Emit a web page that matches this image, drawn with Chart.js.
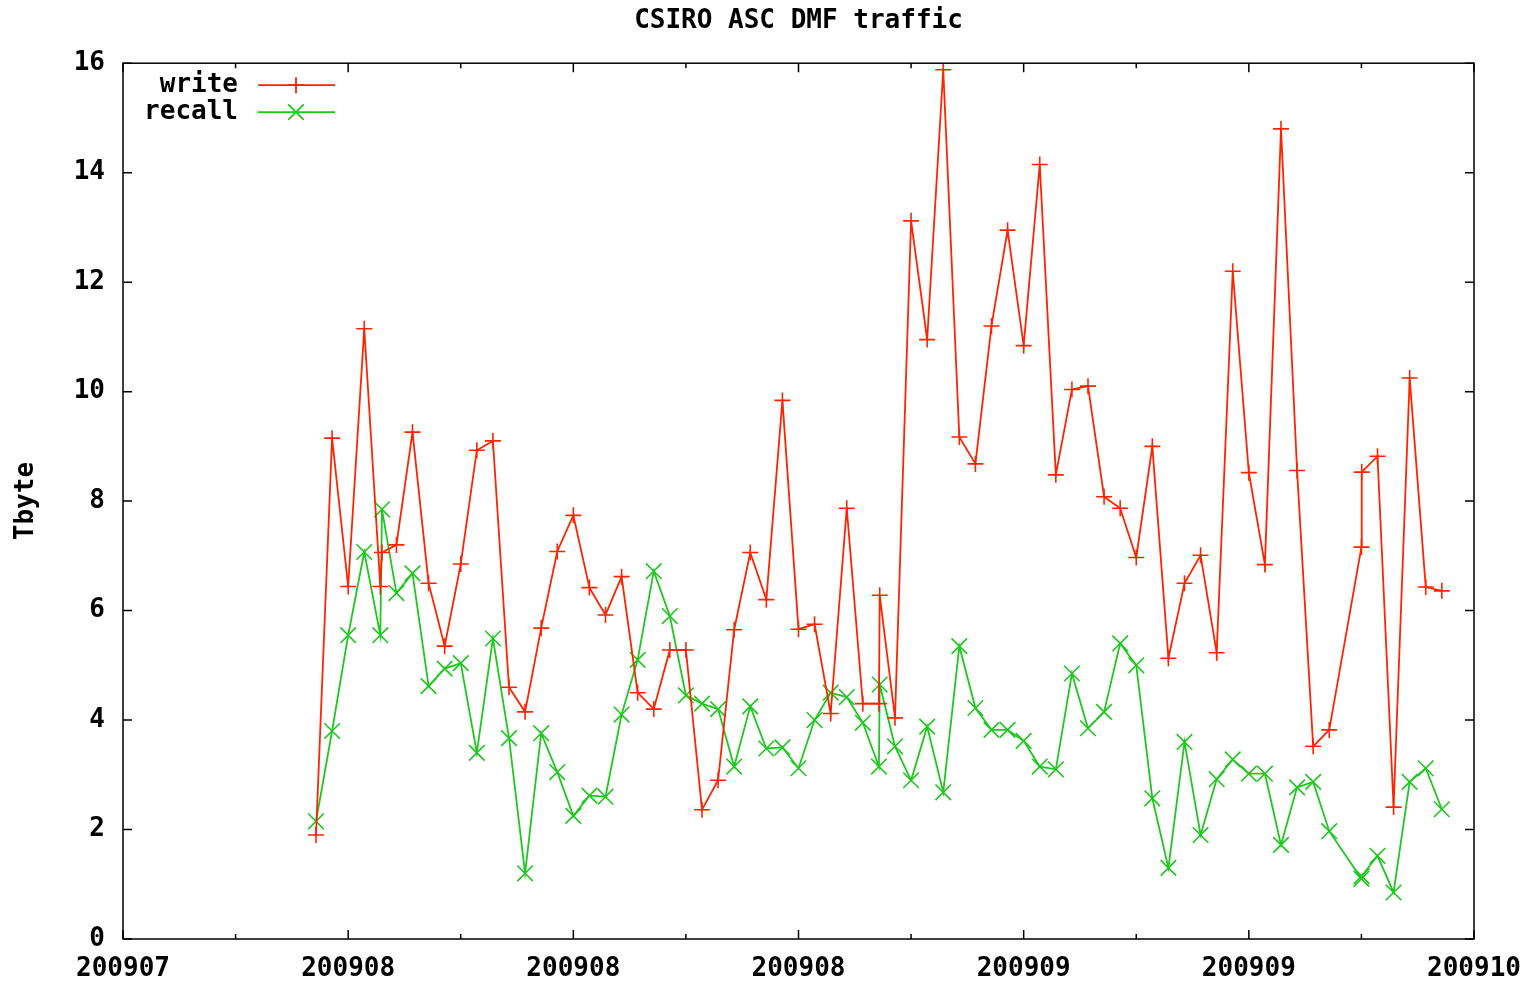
<!DOCTYPE html>
<html><head><meta charset="utf-8">
<script src="https://cdn.jsdelivr.net/npm/chart.js@4/dist/chart.umd.min.js"></script>
<style>html,body{margin:0;padding:0;background:#fff;}</style>
</head><body>
<canvas id="c" width="1530" height="983"></canvas>
<script>
const titleText = 'CSIRO ASC DMF traffic';
const yAxisTitle = 'Tbyte';
const seriesNames = ['write', 'recall'];
const xTickLabels = ['200907', '200908', '200908', '200908', '200909', '200909', '200910'];
const days = [12,13,14,15,16,16.1,17,18,19,20,21,22,23,24,25,26,27,28,29,30,31,32,33,34,35,36,37,38,39,40,41,42,43,44,45,46,47,47.05,48,49,50,51,52,53,54,55,56,57,58,59,60,61,62,63,64,65,66,67,68,69,70,71,72,73,74,75,77,77.02,78,79,80,81,82];
const writeTB = [1.90,9.15,6.44,11.15,6.44,7.06,7.20,9.26,6.50,5.35,6.85,8.93,9.10,4.60,4.15,5.68,7.08,7.74,6.42,5.92,6.62,4.50,4.20,5.28,5.28,2.36,2.90,5.65,7.06,6.20,9.84,5.66,5.75,4.12,7.87,4.30,4.30,6.28,4.04,13.12,10.95,15.88,9.17,8.68,11.20,12.95,10.84,14.15,8.48,10.04,10.10,8.08,7.87,6.97,9.00,5.13,6.50,7.01,5.23,12.20,8.52,6.84,14.80,8.56,3.52,3.82,7.16,8.53,8.82,2.41,10.25,6.43,6.36];
const recallTB = [2.15,3.80,5.55,7.07,5.55,7.85,6.32,6.68,4.62,4.94,5.04,3.40,5.49,3.67,1.20,3.76,3.05,2.25,2.62,2.60,4.10,5.10,6.72,5.90,4.45,4.30,4.20,3.15,4.25,3.48,3.50,3.12,4.00,4.50,4.42,3.95,3.15,4.65,3.52,2.90,3.88,2.68,5.35,4.22,3.82,3.82,3.62,3.15,3.10,4.85,3.85,4.15,5.40,5.00,2.57,1.30,3.60,1.90,2.92,3.28,3.02,3.02,1.72,2.77,2.87,1.97,1.10,1.15,1.52,0.85,2.87,3.12,2.37];

const RED = '#ff2400';
const GREEN = '#1ec81e';
const FONT = "'DejaVu Sans Mono', monospace";
const font = {family: FONT, size: 26, weight: 'bold'};

const framePlugin = {
  id: 'gpFrame',
  afterDraw(chart) {
    const {ctx, chartArea: a, scales: {x, y}} = chart;
    ctx.save();
    ctx.strokeStyle = '#000';
    ctx.lineWidth = 1.5;
    ctx.strokeRect(a.left, a.top, a.right - a.left, a.bottom - a.top);
    ctx.beginPath();
    y.ticks.forEach(t => {
      const py = y.getPixelForValue(t.value);
      ctx.moveTo(a.left, py); ctx.lineTo(a.left + 9, py);
      ctx.moveTo(a.right, py); ctx.lineTo(a.right - 9, py);
    });
    x.ticks.forEach(t => {
      const px = x.getPixelForValue(t.value);
      ctx.moveTo(px, a.bottom); ctx.lineTo(px, a.bottom - 9);
      ctx.moveTo(px, a.top); ctx.lineTo(px, a.top + 9);
    });
    for (let i = 0; i < x.ticks.length - 1; i++) {
      const px = x.getPixelForValue((x.ticks[i].value + x.ticks[i + 1].value) / 2);
      ctx.moveTo(px, a.bottom); ctx.lineTo(px, a.bottom - 5);
      ctx.moveTo(px, a.top); ctx.lineTo(px, a.top + 5);
    }
    ctx.stroke();
    ctx.restore();
  }
};

const legendPlugin = {
  id: 'gpLegend',
  afterDraw(chart) {
    const ctx = chart.ctx, a = chart.chartArea;
    ctx.save();
    ctx.font = 'bold 26px ' + FONT;
    ctx.textAlign = 'right';
    ctx.textBaseline = 'middle';
    chart.data.datasets.forEach((ds, i) => {
      const yy = a.top + 22 + i * 27;
      ctx.fillStyle = '#000';
      ctx.fillText(ds.label, a.left + 115, yy);
      ctx.strokeStyle = ds.borderColor;
      ctx.fillStyle = ds.borderColor;
      ctx.lineWidth = ds.borderWidth;
      ctx.beginPath();
      ctx.moveTo(a.left + 135, yy); ctx.lineTo(a.left + 212, yy);
      ctx.stroke();
      Chart.helpers.drawPoint(ctx, {pointStyle: ds.pointStyle, rotation: 0, radius: ds.pointRadius, borderWidth: ds.pointBorderWidth}, a.left + 173, yy);
    });
    ctx.restore();
  }
};

new Chart(document.getElementById('c'), {
  type: 'line',
  data: {
    datasets: [
      {label: seriesNames[0], data: days.map((d, i) => ({x: d, y: writeTB[i]})),
       borderColor: RED, backgroundColor: RED, borderWidth: 1.8, pointStyle: 'cross',
       pointRadius: 8, pointBorderWidth: 1.6, tension: 0, fill: false},
      {label: seriesNames[1], data: days.map((d, i) => ({x: d, y: recallTB[i]})),
       borderColor: GREEN, backgroundColor: GREEN, borderWidth: 1.8, pointStyle: 'crossRot',
       pointRadius: 11, pointBorderWidth: 1.6, tension: 0, fill: false}
    ]
  },
  options: {
    responsive: false, animation: false, devicePixelRatio: 1,
    layout: {padding: {left: 0, right: 56, top: 0, bottom: 0}},
    plugins: {
      legend: {display: false},
      tooltip: {enabled: false},
      title: {display: true, text: titleText, fullSize: false, font, color: '#000', padding: {top: 6, bottom: 26}}
    },
    scales: {
      x: {
        type: 'linear', min: 0, max: 84,
        grid: {display: false, drawTicks: false}, border: {display: false},
        ticks: {stepSize: 14, autoSkip: false, maxRotation: 0, padding: 15, color: '#000', font,
                callback: v => { const k = Math.round(v / 14); return xTickLabels[k] !== undefined ? xTickLabels[k] : ''; }},
        afterFit(s) { s.height = 44; s.paddingLeft = 0; s.paddingRight = 0; }
      },
      y: {
        min: 0, max: 16,
        grid: {display: false, drawTicks: false}, border: {display: false},
        ticks: {stepSize: 2, padding: 18, color: '#000', font},
        title: {display: true, text: yAxisTitle, font, color: '#000', padding: {top: 11, bottom: 0}},
        afterFit(s) { s.width = 123; s.paddingTop = 0; s.paddingBottom = 0; }
      }
    }
  },
  plugins: [framePlugin, legendPlugin]
});
</script>
</body></html>
